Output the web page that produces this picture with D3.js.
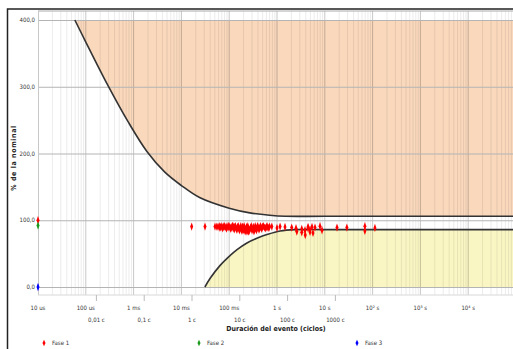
<!DOCTYPE html>
<html>
<head>
<meta charset="utf-8">
<script src="https://cdn.jsdelivr.net/npm/d3@7"></script>
<style>
  body { margin: 0; background: #fff; }
  svg { display: block; font-family: "Liberation Sans Narrow", "DejaVu Sans Condensed", "Liberation Sans", sans-serif; }
</style>
</head>
<body>
<svg id="chart" width="513" height="349"></svg>
<script>
// limit curves (duration in s, % of nominal)
const upperDur = [5.9e-5, 1e-4, 2.9e-4, 7.6e-4, 1.9e-3, 4.5e-3, 0.01, 0.024, 0.1, 0.27, 0.7, 1.5, 10, 1e5];
const upperPct = [400, 367, 302, 248, 203, 172, 152, 134, 118, 111, 107.5, 106, 106, 106];
const lowerDur = [0.031, 0.04, 0.064, 0.104, 0.146, 0.235, 0.38, 0.64, 1.16, 2.4, 10, 1e5];
const lowerPct = [0, 13, 32, 47, 56, 66, 73, 79, 84, 86, 86, 86];

// events
const fase1 = [
  [0.00001, 100], [0.0164, 90.5], [0.0312, 90.5], [0.0505, 90.5], [0.055, 90.5], [0.0583, 90],
  [0.062, 91], [0.064, 88.5], [0.066, 90], [0.07, 91], [0.072, 88], [0.075, 89.5], [0.078, 91.5],
  [0.08, 90.5], [0.085, 89.5], [0.088, 87.5], [0.09, 91], [0.095, 89], [0.098, 91.5], [0.1, 90.5],
  [0.105, 88.5], [0.108, 87], [0.11, 90], [0.115, 89], [0.118, 91.5], [0.12, 91], [0.125, 88],
  [0.128, 86.5], [0.13, 90], [0.135, 91], [0.14, 87.5], [0.145, 85.5], [0.15, 90], [0.155, 91],
  [0.16, 87], [0.165, 85], [0.17, 89], [0.175, 91], [0.18, 86], [0.185, 84], [0.19, 90.5],
  [0.195, 88], [0.2, 85.5], [0.205, 91], [0.21, 88], [0.215, 83.5], [0.22, 84.5], [0.225, 87],
  [0.23, 90], [0.235, 83], [0.24, 85], [0.245, 91], [0.25, 87.5], [0.255, 83], [0.26, 84],
  [0.27, 86], [0.28, 89], [0.29, 91], [0.3, 85], [0.31, 87], [0.32, 90], [0.33, 83.5], [0.34, 86],
  [0.35, 91], [0.36, 88.5], [0.37, 85], [0.38, 87], [0.39, 91], [0.4, 90], [0.42, 86], [0.43, 88],
  [0.45, 91], [0.46, 89.5], [0.48, 87], [0.5, 90.5], [0.52, 91], [0.55, 89], [0.58, 88], [0.6, 90],
  [0.62, 91], [0.65, 88.5], [0.68, 89], [0.7, 90.5],
  [0.78, 90.5], [1.0, 88.5], [1.16, 90.5], [1.47, 90], [2.03, 89], [2.5, 88], [2.6, 83],
  [3.3, 87], [3.3, 82], [3.85, 85], [3.9, 78], [4.46, 90], [4.46, 88], [4.9, 86], [4.9, 82.5],
  [5.4, 90], [5.66, 81], [6.24, 89], [7.94, 91], [8.74, 85], [18, 89], [29, 89], [69, 91],
  [69, 84], [112, 88.5]
];
const fase2 = [[0.00001, 92]];
const fase3 = [[0.00001, 0]];

const timeTicks = [1e-5, 1e-4, 1e-3, 1e-2, 1e-1, 1, 10, 100, 1000, 10000];
const timeLabels = ["10 us", "100 us", "1 ms", "10 ms", "100 ms", "1 s", "10 s", "10² s", "10³ s", "10⁴ s"];
const cycleTicks = [0.01, 0.1, 1, 10, 100, 1000];
const cycleLabels = ["0,01 c", "0,1 c", "1 c", "10 c", "100 c", "1000 c"];
const pctTicks = [0, 100, 200, 300, 400];

const series = [
  { name: "Fase 1", color: "#ff0000", data: fase1 },
  { name: "Fase 2", color: "#1a9a1a", data: fase2 },
  { name: "Fase 3", color: "#0000ff", data: fase3 }
];

const svg = d3.select("#chart");
const plot = { left: 38, right: 513, top: 11, bottom: 295 };

const x = d3.scaleLog().domain([1e-5, 1e5]).range([38, 516]);
const y = d3.scaleLinear().domain([0, 400]).range([287, 20]);

// outer frame
svg.append("rect").attr("x", 7.5).attr("y", 9).attr("width", 520).attr("height", 360)
  .attr("fill", "none").attr("stroke", "#222").attr("stroke-width", 1.5);

svg.append("clipPath").attr("id", "clip").append("rect")
  .attr("x", plot.left).attr("y", plot.top)
  .attr("width", plot.right - plot.left).attr("height", plot.bottom - plot.top);

const g = svg.append("g").attr("clip-path", "url(#clip)");

const upper = upperDur.map((d, i) => [d, upperPct[i]]);
const lower = lowerDur.map((d, i) => [d, lowerPct[i]]);
const smooth = d3.curveCatmullRom.alpha(0.5);

g.append("path").datum(upper)
  .attr("fill", "#f9d8bc")
  .attr("d", d3.area().x(d => x(d[0])).y0(y(400)).y1(d => y(d[1])).curve(smooth));
g.append("path").datum(lower)
  .attr("fill", "#faf6c3")
  .attr("d", d3.area().x(d => x(d[0])).y0(y(0)).y1(d => y(d[1])).curve(smooth));

// vertical log grid
const minor = [];
for (let e = -5; e < 5; e++) for (let k = 2; k <= 9; k++) minor.push(k * Math.pow(10, e));
g.selectAll("line.minor").data(minor).join("line")
  .attr("x1", d => x(d)).attr("x2", d => x(d))
  .attr("y1", plot.top).attr("y2", plot.bottom)
  .attr("stroke", "#000").attr("stroke-opacity", 0.08);
g.selectAll("line.major").data(timeTicks.concat([1e5])).join("line")
  .attr("x1", d => x(d)).attr("x2", d => x(d))
  .attr("y1", plot.top).attr("y2", plot.bottom)
  .attr("stroke", "#000").attr("stroke-opacity", 0.22);

// horizontal grid
g.selectAll("line.h").data(pctTicks).join("line")
  .attr("x1", plot.left).attr("x2", plot.right)
  .attr("y1", d => y(d) + 0.5).attr("y2", d => y(d) + 0.5)
  .attr("stroke", "#b4b4b4");

// plot edges
svg.append("line").attr("x1", plot.left).attr("x2", plot.right)
  .attr("y1", plot.top).attr("y2", plot.top).attr("stroke", "#aaa");
svg.append("line").attr("x1", plot.left + 0.5).attr("x2", plot.left + 0.5)
  .attr("y1", plot.top).attr("y2", plot.bottom).attr("stroke", "#c8c8c8");
svg.append("line").attr("x1", plot.left).attr("x2", plot.right)
  .attr("y1", plot.bottom).attr("y2", plot.bottom).attr("stroke", "#d8d8d8");

// limit curves
const line = d3.line().x(d => x(d[0])).y(d => y(d[1])).curve(smooth);
g.append("path").datum(upper).attr("fill", "none").attr("stroke", "#333").attr("stroke-width", 1.6).attr("d", line);
g.append("path").datum(lower).attr("fill", "none").attr("stroke", "#333").attr("stroke-width", 1.6).attr("d", line);

// points
const sym = d3.symbol().type(d3.symbolDiamond).size(12);
series.forEach(s => {
  svg.append("g").selectAll("path").data(s.data).join("path")
    .attr("transform", d => `translate(${x(d[0])},${y(d[1])}) scale(0.8,1.3)`)
    .attr("d", sym).attr("fill", s.color);
});

// y axis labels
svg.selectAll("text.ylab").data(pctTicks).join("text")
  .attr("x", 35).attr("y", d => y(d) + 2)
  .attr("text-anchor", "end").attr("font-size", 6).attr("fill", "#333")
  .text(d => d3.format(".1f")(d).replace(".", ","));

svg.append("text")
  .attr("transform", "translate(16,158) rotate(-90)")
  .attr("text-anchor", "middle").attr("font-size", 7).attr("font-weight", "bold")
  .attr("letter-spacing", 0.6).attr("fill", "#222")
  .text("% de la nominal");

// x axis: time labels
svg.selectAll("text.tlab").data(timeTicks).join("text")
  .attr("x", d => x(d)).attr("y", 310)
  .attr("text-anchor", "middle").attr("font-size", 6).attr("fill", "#333")
  .text((d, i) => timeLabels[i]);

// cycle ticks (60 Hz)
svg.selectAll("line.ctick").data(cycleTicks).join("line")
  .attr("x1", d => x(d / 60)).attr("x2", d => x(d / 60))
  .attr("y1", plot.bottom).attr("y2", plot.bottom + 6)
  .attr("stroke", "#bbb");
svg.selectAll("text.clab").data(cycleTicks).join("text")
  .attr("x", d => x(d / 60)).attr("y", 322)
  .attr("text-anchor", "middle").attr("font-size", 6).attr("fill", "#333")
  .text((d, i) => cycleLabels[i]);

svg.append("text").attr("x", 276).attr("y", 331)
  .attr("text-anchor", "middle").attr("font-size", 7).attr("font-weight", "bold").attr("fill", "#222")
  .text("Duración del evento (ciclos)");

// legend
const legX = [44, 199, 357];
series.forEach((s, i) => {
  svg.append("path").attr("transform", `translate(${legX[i]},343) scale(0.9,1.1)`)
    .attr("d", d3.symbol().type(d3.symbolDiamond).size(10)()).attr("fill", s.color);
  svg.append("text").attr("x", legX[i] + 8).attr("y", 345)
    .attr("font-size", 6).attr("fill", "#333").text(s.name);
});
</script>
</body>
</html>
